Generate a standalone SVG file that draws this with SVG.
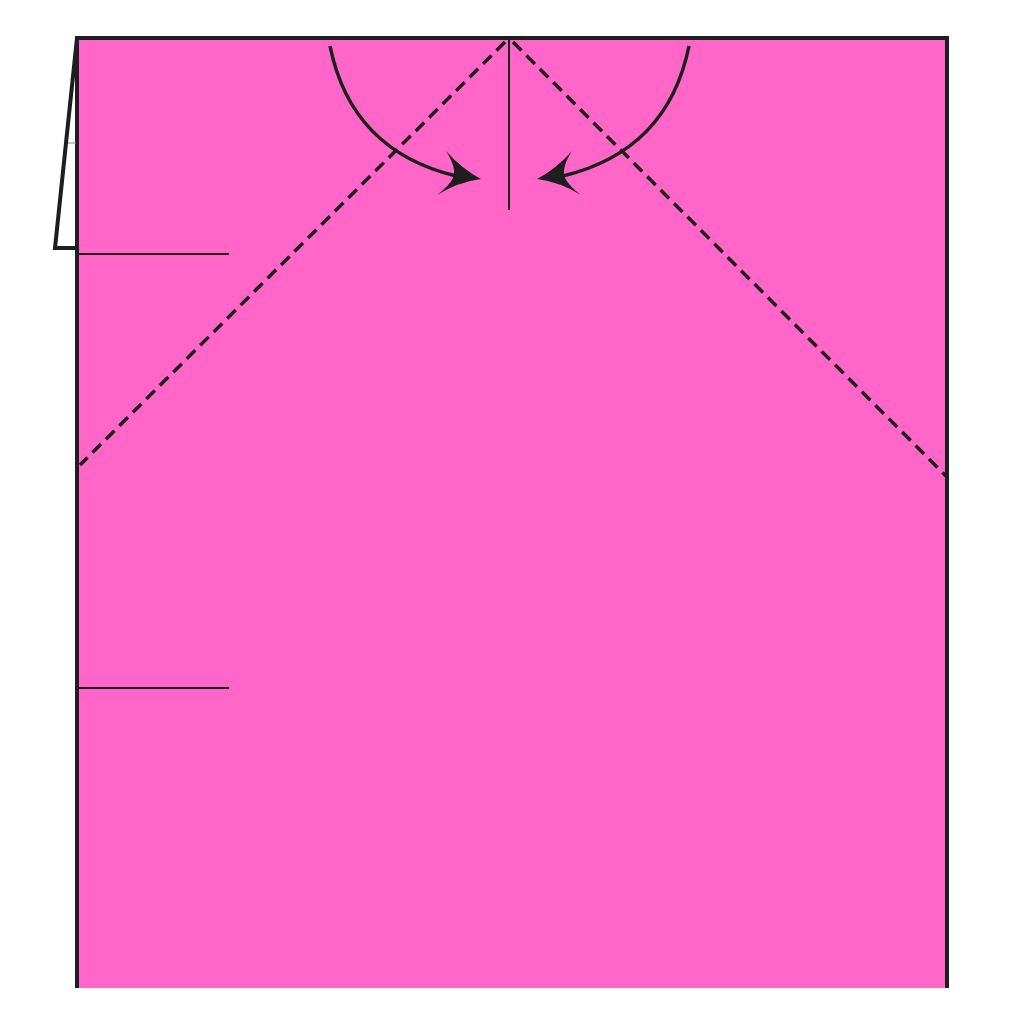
<svg xmlns="http://www.w3.org/2000/svg" width="1024" height="1024" viewBox="0 0 1024 1024">
<style>
.edge{fill:none;stroke:#1e1e1e;stroke-width:4;stroke-linejoin:miter}
.crease{fill:none;stroke:#1e1e1e;stroke-width:2}
.valley{fill:none;stroke:#1e1e1e;stroke-width:3.5;stroke-dasharray:12 7}
.arc{fill:none;stroke:#1e1e1e;stroke-width:3.5}
.head{fill:#1e1e1e;stroke:none}
</style>
<rect width="1024" height="1024" fill="#ffffff"/>
<g id="paper">
<rect x="77" y="38" width="870" height="950" fill="#ff66c8"/>
<path class="edge" d="M77,988 L77,38 L947,38 L947,988"/>
</g>
<g id="flap">
<path class="edge" d="M77,38 L55,248 L77,248"/>
<line x1="68" y1="143" x2="76" y2="143" stroke="#888" stroke-width="1"/>
</g>
<g id="creases">
<line class="crease" x1="77" y1="254" x2="229" y2="254"/>
<line class="crease" x1="77" y1="688" x2="229" y2="688"/>
<line class="crease" x1="509" y1="38" x2="509" y2="210"/>
<line class="valley" x1="505" y1="42" x2="80" y2="465"/>
<line class="valley" x1="513" y1="42" x2="947" y2="477"/>
</g>
<g id="connectors">
<path class="arc" d="M330,46 C345,120 390,160 456,176"/>
<path class="head" d="M481,179 Q462,169 446,151 Q457,168 453,178 Q449,186 437,195 Q458,182 481,179 Z"/>
<path class="arc" d="M689,46 C674,120 629,160 563,176"/>
<path class="head" d="M537,179 Q556,169 572,151 Q561,168 565,178 Q569,186 581,195 Q560,182 537,179 Z"/>
</g>
</svg>
